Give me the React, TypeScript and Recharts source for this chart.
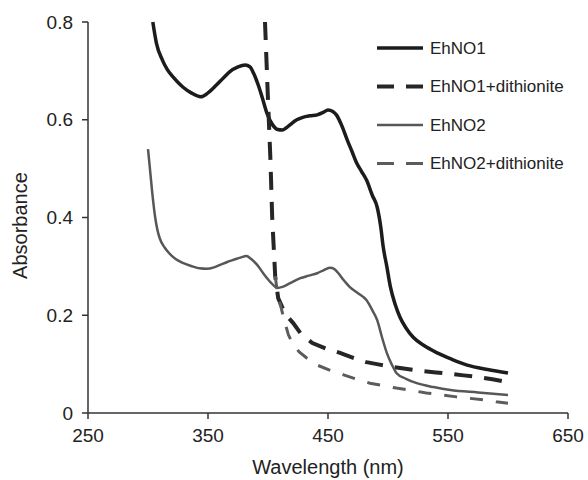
import { LineChart, Line, XAxis, YAxis } from "recharts"

const X_TICKS = [250, 350, 450, 550, 650]
const Y_TICKS = [0, 0.2, 0.4, 0.6, 0.8]

const EHNO1_NM  = [304, 307, 312, 316, 321, 329, 336, 344, 350, 357, 363, 368, 375, 381, 385, 388, 392, 395, 399, 404, 408, 412, 415, 418, 424, 429, 435, 441, 446, 450, 454, 457, 462, 466, 470, 474, 478, 482, 487, 491, 494, 496, 499, 502, 506, 510, 515, 521, 530, 541, 553, 566, 583, 600]
const EHNO1_ABS = [0.8, 0.757, 0.722, 0.703, 0.687, 0.667, 0.655, 0.647, 0.655, 0.671, 0.686, 0.698, 0.708, 0.712, 0.708, 0.695, 0.67, 0.647, 0.614, 0.589, 0.58, 0.579, 0.583, 0.589, 0.6, 0.605, 0.608, 0.61, 0.615, 0.62, 0.617, 0.61, 0.585, 0.559, 0.535, 0.511, 0.494, 0.477, 0.445, 0.421, 0.38, 0.34, 0.3, 0.258, 0.222, 0.196, 0.174, 0.155, 0.138, 0.123, 0.11, 0.098, 0.089, 0.082]

const EHNO1_DT_NM  = [397.5, 400, 402, 403.5, 406, 408.5, 413, 417, 421, 428, 437, 448, 460, 471, 482, 493, 504, 516, 529, 540, 552, 563, 574, 587, 600]
const EHNO1_DT_ABS = [0.8, 0.64, 0.52, 0.4, 0.28, 0.235, 0.21, 0.195, 0.184, 0.16, 0.143, 0.132, 0.123, 0.113, 0.104, 0.099, 0.094, 0.09, 0.086, 0.083, 0.08, 0.077, 0.074, 0.069, 0.063]

const EHNO2_NM  = [300, 302, 304, 306, 308, 310, 314, 318, 323, 329, 337, 343, 349, 355, 361, 366, 372, 377, 382, 386, 391, 396, 402, 408, 412, 418, 427, 434, 441, 447, 452, 455, 458, 463, 468, 475, 482, 487, 491, 495, 499, 503, 507, 515, 524, 538, 552, 575, 600]
const EHNO2_ABS = [0.54, 0.49, 0.44, 0.4, 0.373, 0.356, 0.338, 0.326, 0.315, 0.307, 0.3, 0.296, 0.295, 0.298, 0.304, 0.309, 0.314, 0.318, 0.321, 0.315, 0.303, 0.286, 0.268, 0.256, 0.258, 0.265, 0.276, 0.281, 0.286, 0.293, 0.297, 0.295, 0.288, 0.272, 0.258, 0.245, 0.231, 0.21, 0.19, 0.155, 0.123, 0.1, 0.082, 0.07, 0.061, 0.053, 0.047, 0.042, 0.037]

const EHNO2_DT_NM  = [406, 408.5, 411, 413, 417, 421, 426, 432, 441, 452, 463, 474, 485, 496, 507, 520, 532, 545, 557, 568, 579, 590, 600]
const EHNO2_DT_ABS = [0.28, 0.235, 0.215, 0.195, 0.16, 0.14, 0.125, 0.113, 0.098, 0.087, 0.078, 0.069, 0.061, 0.056, 0.051, 0.046, 0.041, 0.037, 0.033, 0.03, 0.027, 0.023, 0.02]

const SERIES = [
  { key: "e1", name: "EhNO1",            nm: EHNO1_NM,    abs: EHNO1_ABS,    color: "#1c1c1c", width: 3.5, dash: undefined, curve: "monotone" },
  { key: "d1", name: "EhNO1+dithionite", nm: EHNO1_DT_NM, abs: EHNO1_DT_ABS, color: "#262626", width: 4,   dash: "18 12",   curve: "linear" },
  { key: "e2", name: "EhNO2",            nm: EHNO2_NM,    abs: EHNO2_ABS,    color: "#575757", width: 2.5, dash: undefined, curve: "monotone" },
  { key: "d2", name: "EhNO2+dithionite", nm: EHNO2_DT_NM, abs: EHNO2_DT_ABS, color: "#5c5c5c", width: 3,   dash: "13 13",   curve: "linear" },
]

// one table on a shared wavelength column, gaps bridged with connectNulls
const ALL_NM = Array.from(new Set(SERIES.flatMap((s) => s.nm))).sort((a, b) => a - b)
const ROWS = ALL_NM.map((x) => {
  const row: Record<string, number> = { nm: x }
  SERIES.forEach((s) => {
    const i = s.nm.indexOf(x)
    if (i >= 0) row[s.key] = s.abs[i]
  })
  return row
})

const FONT = "'Liberation Sans', Arial, sans-serif"
const TICK = { fontSize: 19, fill: "#222", fontFamily: FONT }

function LegendBox() {
  return (
    <svg width={210} height={140} style={{ position: "absolute", left: 377, top: 38 }}>
      {SERIES.map((s, i) => {
        const y = 10 + i * 38.5
        return (
          <g key={s.key}>
            <line x1={0} x2={46} y1={y} y2={y} stroke={s.color} strokeWidth={s.width} strokeDasharray={s.dash ? "17 12" : undefined} />
            <text x={53} y={y} dominantBaseline="central" fontSize={17} fill="#222" fontFamily={FONT}>{s.name}</text>
          </g>
        )
      })}
    </svg>
  )
}

export default function App() {
  return (
    <div style={{ position: "fixed", left: 0, top: 0, width: 588, height: 480, background: "#fff" }}>
      <LineChart width={588} height={480} data={ROWS} margin={{ top: 22, right: 20, left: 0, bottom: 0 }} style={{ fontFamily: FONT }}>
        <XAxis
          type="number" dataKey="nm" domain={[250, 650]} ticks={X_TICKS}
          tick={TICK} tickSize={6} tickMargin={10} height={67}
          stroke="#333" strokeWidth={1.5}
          label={{
            content: ({ viewBox }: any) => (
              <text x={viewBox.x + viewBox.width / 2} y={viewBox.y + 61} textAnchor="middle" fontSize={20} fill="#222" fontFamily={FONT}>
                Wavelength (nm)
              </text>
            ),
          }}
        />
        <YAxis
          type="number" domain={[0, 0.8]} ticks={Y_TICKS}
          tick={TICK} tickSize={6} tickMargin={9} width={88}
          stroke="#333" strokeWidth={1.5}
          label={{
            content: ({ viewBox }: any) => {
              const x = viewBox.x + 20
              const y = viewBox.y + viewBox.height / 2 + 8
              return (
                <text x={x} y={y} transform={`rotate(-90 ${x} ${y})`} textAnchor="middle" dominantBaseline="central" fontSize={20} fill="#222" fontFamily={FONT}>
                  Absorbance
                </text>
              )
            },
          }}
        />
        {SERIES.map((s) => (
          <Line
            key={s.key} dataKey={s.key} name={s.name} type={s.curve as any} connectNulls
            stroke={s.color} strokeWidth={s.width} strokeDasharray={s.dash}
            dot={false} activeDot={false} isAnimationActive={false}
          />
        ))}
      </LineChart>
      <LegendBox />
    </div>
  )
}
